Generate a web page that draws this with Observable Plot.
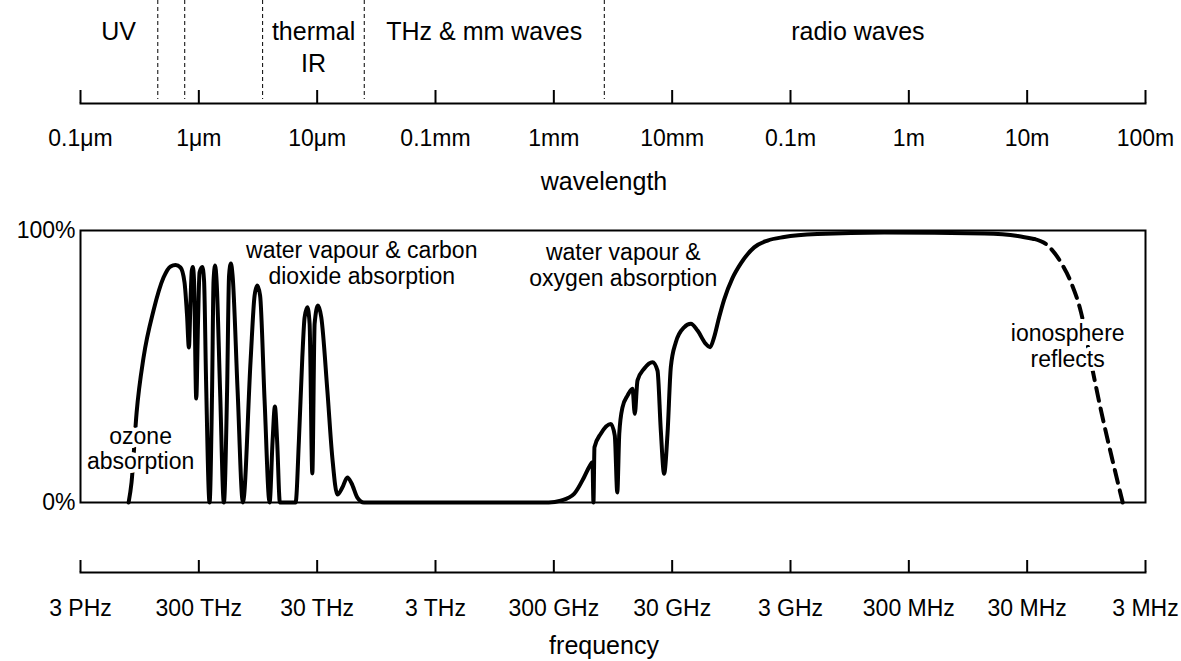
<!DOCTYPE html>
<html><head><meta charset="utf-8">
<script src="https://cdn.jsdelivr.net/npm/d3@7"></script>
<script src="https://cdn.jsdelivr.net/npm/@observablehq/plot@0.6"></script>
<style>
body{margin:0;background:#fff;}
#chart{position:relative;width:1181px;height:661px;}
#chart > div{position:absolute;left:0;}
</style></head><body>
<div id="chart"><div id="top" style="top:0"></div><div id="mid" style="top:200px"></div><div id="bot" style="top:540px"></div></div>
<script>
// ---- data ----
const wavelengthTicks = [0.1, 1, 10, 100, 1e3, 1e4, 1e5, 1e6, 1e7, 1e8]; // µm
const wavelengthLabels = ["0.1μm", "1μm", "10μm", "0.1mm", "1mm", "10mm", "0.1m", "1m", "10m", "100m"];
const frequencyTicks = [3e15, 3e14, 3e13, 3e12, 3e11, 3e10, 3e9, 3e8, 3e7, 3e6]; // Hz
const frequencyLabels = ["3 PHz", "300 THz", "30 THz", "3 THz", "300 GHz", "30 GHz", "3 GHz", "300 MHz", "30 MHz", "3 MHz"];

const bandBoundaries = [0.45, 0.76, 3.46, 25, 2670]; // µm
const bandNames = ["UV", "thermal\nIR", "THz & mm waves", "radio waves"];
const bandLabelAt = [0.21, 9.33, 258, 371200]; // µm

// atmospheric transmission, solid part
const solidWavelength = [0.255, 0.270, 0.298, 0.341, 0.414, 0.503, 0.577, 0.636, 0.700, 0.757, 0.795, 0.824, 0.851, 0.872, 0.890, 0.911, 0.951, 0.985, 1.014, 1.069, 1.107, 1.151, 1.232, 1.294, 1.332, 1.372, 1.412, 1.512, 1.628, 1.733, 1.801, 1.866, 1.928, 2.126, 2.357, 2.738, 2.960, 3.119, 3.294, 3.595, 3.963, 4.202, 4.394, 4.586, 4.843, 6.574, 7.01, 7.49, 7.83, 8.26, 8.63, 9.10, 9.52, 10.15, 10.84, 12.19, 13.43, 14.81, 16.32, 17.99, 19.56, 21.86, 24.85, 906, 1144, 1483, 1801, 1986, 2121, 2162, 2205, 2493, 3029, 3274, 3437, 3574, 3804, 4193, 4623, 4834, 5094, 5792, 6821, 7518, 8016, 8548, 9134, 9740, 10736, 12620, 14383, 16383, 19253, 20937, 22630, 24944, 27491, 32254, 38055, 49318, 64001, 88429, 169400, 619600, 4.34e6, 8.32e6, 1.142e7];
const solidTransmission = [0, 7.4, 33.1, 53.3, 70.6, 82.7, 86.8, 87.3, 86.4, 80.9, 68.8, 57.0, 74.3, 85.3, 86.6, 81.6, 38.2, 66.9, 84.6, 86.6, 81.6, 44.9, 0, 41.2, 81.6, 87.1, 81.6, 41.2, 0, 41.2, 83.5, 87.9, 83.5, 41.2, 0, 52.2, 76.1, 79.8, 76.1, 37.5, 0, 22.8, 35.3, 22.8, 0, 0, 22.8, 53.3, 68.0, 71.8, 65.8, 10.7, 65.8, 72.4, 68.0, 41.2, 16.5, 2.9, 5.5, 9.2, 7.0, 1.8, 0, 0, 0.7, 3.2, 9.3, 13.0, 14.8, 0, 20.3, 25.3, 28.9, 24.6, 3.7, 25.4, 35.0, 39.3, 41.8, 32.6, 44.9, 49.2, 51.6, 48.5, 26.5, 10.6, 25.3, 49.7, 58.9, 64.4, 65.7, 63.2, 58.3, 57.1, 60.8, 68.1, 74.6, 82.4, 87.9, 93.8, 96.3, 97.6, 98.7, 99.3, 98.9, 98.0, 96.9];
// ionosphere part (dashed)
const dashedWavelength = [1.142e7, 1.49e7, 1.932e7, 2.349e7, 2.852e7, 3.465e7, 4.21e7, 5.217e7, 6.42e7];
const dashedTransmission = [96.9, 94.5, 88.2, 80.9, 69.9, 51.5, 33.8, 16.2, 0];

const noteTexts = ["ozone\nabsorption", "water vapour & carbon\ndioxide absorption", "water vapour &\noxygen absorption", "ionosphere\nreflects"];
const noteWavelength = [0.322, 23.8, 3864, 2.2e7];
const noteTransmission = [19.9, 88.2, 87.5, 57.7];

// ---- build ----
const FONT = "'Liberation Sans', Arial, Helvetica, sans-serif";
const W = 1181, ML = 80, MR = 36;
const solid = solidWavelength.map((w, i) => ({w, t: solidTransmission[i]}));
const dashed = dashedWavelength.map((w, i) => ({w, t: dashedTransmission[i]}));
const bands = bandNames.map((n, i) => ({n, at: bandLabelAt[i]}));
const notes = noteTexts.map((n, i) => ({n, w: noteWavelength[i], t: noteTransmission[i]}));
const freqTickData = frequencyTicks.map((f, i) => ({f, label: frequencyLabels[i]}));
const style = {fontFamily: FONT, color: "#000", background: "transparent", overflow: "visible"};

const topPlot = Plot.plot({
  width: W, height: 200, marginLeft: ML, marginRight: MR, marginTop: 0, marginBottom: 97,
  style,
  x: {type: "log", domain: [0.1, 1e8]},
  marks: [
    Plot.ruleX(bandBoundaries, {stroke: "#000", strokeWidth: 1, strokeDasharray: "4,3", insetBottom: 4}),
    Plot.text(bands, {x: "at", text: "n", frameAnchor: "top", lineAnchor: "top", dy: 17, fontSize: 25, lineHeight: 1.28, fill: "#000"}),
    Plot.ruleX(wavelengthTicks, {insetTop: 90, strokeWidth: 2, stroke: "#000"}),
    Plot.frame({anchor: "bottom", strokeWidth: 2, stroke: "#000"}),
    Plot.axisX(wavelengthTicks, {tickSize: 0, tickPadding: 26, fontSize: 23, label: null,
      tickFormat: d => wavelengthLabels[wavelengthTicks.indexOf(d)]}),
    Plot.text(["wavelength"], {text: d => d, frameAnchor: "bottom", dy: 78, dx: -9, fontSize: 25, lineAnchor: "middle"})
  ]
});
document.getElementById("top").append(topPlot);

const midPlot = Plot.plot({
  width: W, height: 340, marginLeft: ML, marginRight: MR, marginTop: 30, marginBottom: 38,
  style,
  x: {type: "log", domain: [0.1, 1e8], axis: null},
  y: {domain: [0, 100]},
  marks: [
    Plot.line(solid, {x: "w", y: "t", curve: "monotone-x", stroke: "#000", strokeWidth: 4}),
    Plot.line(dashed, {x: "w", y: "t", curve: "monotone-x", stroke: "#000", strokeWidth: 4, strokeDasharray: "13,8"}),
    Plot.text(notes, {x: "w", y: "t", text: "n", fontSize: 23, lineHeight: 1.12, fill: "#000", stroke: "white", strokeWidth: 8, strokeLinejoin: "round", paintOrder: "stroke"}),
    Plot.frame({strokeWidth: 2, stroke: "#000"}),
    Plot.axisY([0, 100], {tickSize: 0, tickPadding: 5, fontSize: 23, label: null, tickFormat: d => d + "%"})
  ]
});
document.getElementById("mid").append(midPlot);

const botPlot = Plot.plot({
  width: W, height: 121, marginLeft: ML, marginRight: MR, marginTop: 0, marginBottom: 89,
  style,
  x: {type: "log", domain: [3e15, 3e6], axis: null},
  marks: [
    Plot.ruleX(frequencyTicks, {insetTop: 20, strokeWidth: 2, stroke: "#000"}),
    Plot.frame({anchor: "bottom", strokeWidth: 2, stroke: "#000"}),
    Plot.text(freqTickData, {x: "f", text: "label", frameAnchor: "bottom", lineAnchor: "top", dy: 27, fontSize: 23, fill: "#000"}),
    Plot.text(["frequency"], {text: d => d, frameAnchor: "bottom", dy: 73, dx: -9, fontSize: 25, lineAnchor: "middle"})
  ]
});
document.getElementById("bot").append(botPlot);
</script></body></html>
